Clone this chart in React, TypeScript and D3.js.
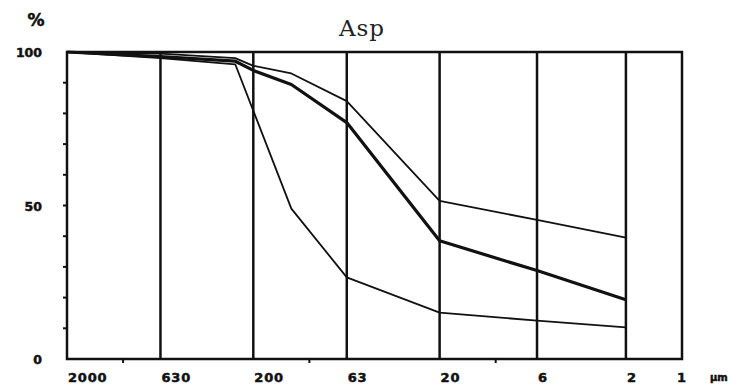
import React, { useEffect, useRef } from 'react';
import * as d3 from 'd3';

// particle size classes (µm) and cumulative passing (%)
const gridSizes = [630, 200, 63, 20, 6, 2];
const tickLabels = ['2000', '630', '200', '63', '20', '6', '2', '1'];
const minorSizes = [1000, 100, 10];
const yTicks = [10, 20, 30, 40, 50, 60, 70, 80, 90];
const yLabels = [100, 50, 0];

const upperSizes = [2000, 630, 250, 200, 125, 63, 20, 6, 2];
const upperValues = [100, 99.5, 98, 95.5, 93, 84, 51.5, 45.3, 39.5];

const meanSizes = [2000, 630, 250, 200, 125, 63, 20, 6, 2];
const meanValues = [100, 98.5, 97, 94, 89.4, 77, 38.5, 28.8, 19.3];

const lowerSizes = [2000, 630, 250, 125, 63, 20, 6, 2];
const lowerValues = [100, 98, 96, 49, 26.6, 15.1, 12.5, 10.3];

const App: React.FC = () => {
  const chartRef = useRef<SVGSVGElement | null>(null);

  useEffect(() => {
    renderChart();
  }, []);

  const renderChart = () => {
    const width = 737;
    const height = 387;
    const left = 67, right = 682, top = 52, bottom = 359;

    const svg = d3.select(chartRef.current);
    svg.selectAll('*').remove();
    svg.attr('width', width).attr('height', height);

    svg.append('rect').attr('width', width).attr('height', height).attr('fill', '#fff');

    const x = d3.scaleLog().domain([2000, 1]).range([left, right]);
    const y = d3.scaleLinear().domain([0, 100]).range([bottom, top]);

    const boldText = (sel: d3.Selection<SVGTextElement, any, any, any>, size: string) =>
      sel.style('font-family', '"DejaVu Sans", sans-serif')
        .style('font-weight', 'bold')
        .style('font-size', size)
        .style('fill', '#111')
        .style('stroke', '#111')
        .style('stroke-width', '0.5px');

    // title
    svg.append('text')
      .attr('x', 362)
      .attr('y', 36)
      .attr('text-anchor', 'middle')
      .style('font-family', '"Nimbus Mono PS", "Nimbus Mono L", "DejaVu Serif", serif')
      .style('font-size', '23px')
      .style('letter-spacing', '1px')
      .style('fill', '#222')
      .text('Asp');

    // % label
    boldText(svg.append('text')
      .attr('x', 36)
      .attr('y', 26)
      .attr('text-anchor', 'middle'), '17px')
      .text('%');

    // frame
    svg.append('rect')
      .attr('x', left)
      .attr('y', top)
      .attr('width', right - left)
      .attr('height', bottom - top)
      .attr('fill', 'none')
      .attr('stroke', '#111')
      .attr('stroke-width', 2.5);

    // vertical grid lines
    svg.selectAll('.grid')
      .data(gridSizes)
      .enter().append('line')
      .attr('class', 'grid')
      .attr('x1', d => x(d))
      .attr('x2', d => x(d))
      .attr('y1', y(100))
      .attr('y2', y(0))
      .attr('stroke', '#111')
      .attr('stroke-width', 2.5);

    // minor x ticks
    svg.selectAll('.xminor')
      .data(minorSizes)
      .enter().append('line')
      .attr('class', 'xminor')
      .attr('x1', d => x(d))
      .attr('x2', d => x(d))
      .attr('y1', y(0))
      .attr('y2', y(0) + 4)
      .attr('stroke', '#111')
      .attr('stroke-width', 2);

    // y ticks
    svg.selectAll('.yminor')
      .data(yTicks)
      .enter().append('line')
      .attr('class', 'yminor')
      .attr('x1', left - 4)
      .attr('x2', left)
      .attr('y1', d => y(d))
      .attr('y2', d => y(d))
      .attr('stroke', '#111')
      .attr('stroke-width', 2);

    // y labels
    yLabels.forEach(v => {
      boldText(svg.append('text')
        .attr('x', 42)
        .attr('y', y(v) + 5)
        .attr('text-anchor', 'end'), '12.5px')
        .text(String(v));
    });

    // x labels
    tickLabels.forEach(d => {
      boldText(svg.append('text')
        .attr('x', d === '1' ? x(+d) : x(+d) + 1)
        .attr('y', 382)
        .attr('text-anchor', d === '1' ? 'middle' : 'start'), '13px')
        .style('letter-spacing', '0.8px')
        .text(d);
    });

    boldText(svg.append('text')
      .attr('x', 710)
      .attr('y', 381), '10px')
      .text('µm');

    const line = d3.line<[number, number]>()
      .x(d => x(d[0]))
      .y(d => y(d[1]));

    const series = [
      { sizes: upperSizes, values: upperValues, w: 1.8 },
      { sizes: lowerSizes, values: lowerValues, w: 1.8 },
      { sizes: meanSizes, values: meanValues, w: 3.2 },
    ];

    series.forEach(s => {
      const pts = s.sizes.map((d, i) => [d, s.values[i]] as [number, number]);
      svg.append('path')
        .attr('d', line(pts))
        .attr('fill', 'none')
        .attr('stroke', '#111')
        .attr('stroke-width', s.w)
        .attr('stroke-linejoin', 'round');
    });
  };

  return (
    <div style={{ position: 'absolute', left: 0, top: 0 }}>
      <svg ref={chartRef} style={{ display: 'block' }}></svg>
    </div>
  );
};

export default App;
